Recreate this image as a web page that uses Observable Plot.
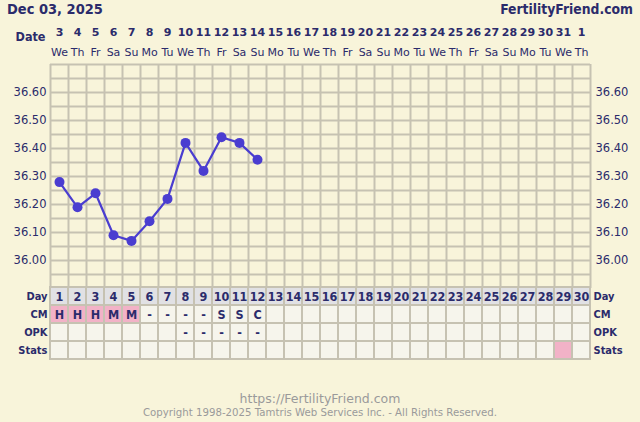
<!DOCTYPE html>
<html><head><meta charset="utf-8">
<script src="https://cdn.jsdelivr.net/npm/d3@7"></script>
<script src="https://cdn.jsdelivr.net/npm/@observablehq/plot@0.6"></script>
<style>
html,body{margin:0;padding:0;background:#f8f4da;}
body{width:640px;height:422px;overflow:hidden;position:relative;font-family:"DejaVu Sans Condensed","DejaVu Sans",sans-serif;color:#2b2b6b;}
#hdr{height:20px;position:relative;}
#hdr div{position:absolute;top:1px;font-weight:bold;line-height:17px;}
#hdr .l{left:7px;font-size:14.5px;}
#hdr .r{right:7px;font-size:13.8px;}
svg{display:block;}
#tbl svg{margin-top:-2px;}
.ft{position:absolute;left:0;width:640px;text-align:center;color:#9a9a9a;font-family:"DejaVu Sans",sans-serif;}
#f1{top:391px;font-size:12.5px;line-height:16px;}
#f2{top:407px;font-size:10.2px;line-height:12px;}
</style></head>
<body>
<div id="hdr"><div class="l">Dec 03, 2025</div><div class="r">FertilityFriend.com</div></div>
<div id="chart"></div>
<div id="tbl"></div>
<div class="ft" id="f1">https://FertilityFriend.com</div>
<div class="ft" id="f2">Copyright 1998-2025 Tamtris Web Services Inc. - All Rights Reserved.</div>
<script>
const days = [1,2,3,4,5,6,7,8,9,10,11,12,13,14,15,16,17,18,19,20,21,22,23,24,25,26,27,28,29,30];
const dates = [3,4,5,6,7,8,9,10,11,12,13,14,15,16,17,18,19,20,21,22,23,24,25,26,27,28,29,30,31,1];
const weekdays = ["We","Th","Fr","Sa","Su","Mo","Tu","We","Th","Fr","Sa","Su","Mo","Tu","We","Th","Fr","Sa","Su","Mo","Tu","We","Th","Fr","Sa","Su","Mo","Tu","We","Th"];
const temps = [36.28,36.19,36.24,36.09,36.07,36.14,36.22,36.42,36.32,36.44,36.42,36.36];
const cm = ["H","H","H","M","M","-","-","-","-","S","S","C"];
const opk = ["","","","","","","","-","-","-","-","-"];
const cmPinkDays = [1,2,3,4,5];
const statsPinkDays = [29];
const tempTicks = [36.00,36.10,36.20,36.30,36.40,36.50,36.60];
const gridTemps = [35.90,35.95,36.00,36.05,36.10,36.15,36.20,36.25,36.30,36.35,36.40,36.45,36.50,36.55,36.60,36.65,36.70];
const rows = ["Day","CM","OPK","Stats"];

const NAVY = "#2b2b6b", LINE = "#4a3dd0", GRID = "#c6c2b2", PINK = "#f2b2c7", DAYBG = "#e1e1e4", CELLBG = "#f6f5ec";
const FONT = '"DejaVu Sans Condensed","DejaVu Sans",sans-serif';
const WIDE = '"DejaVu Sans",sans-serif';
const colEdges = [0.5].concat(days.map(d => d + 0.5));

const chart = Plot.plot({
  width: 640, height: 268,
  marginTop: 44, marginBottom: 0, marginLeft: 50, marginRight: 50,
  style: {background: "transparent", fontFamily: FONT, color: NAVY, overflow: "visible"},
  x: {domain: [0.5, 30.5], axis: null},
  y: {domain: [35.9, 36.7], axis: null},
  marks: [
    Plot.ruleY(gridTemps, {stroke: GRID, strokeWidth: 2}),
    Plot.ruleX(colEdges, {stroke: GRID, strokeWidth: 2}),
    Plot.axisY(tempTicks, {anchor: "left", label: null, tickSize: 0, tickPadding: 4, fontSize: 11.5, fontFamily: WIDE, fill: NAVY, tickFormat: d => d.toFixed(2)}),
    Plot.axisY(tempTicks, {anchor: "right", label: null, tickSize: 0, tickPadding: 5, fontSize: 11.5, fontFamily: WIDE, fill: NAVY, tickFormat: d => d.toFixed(2)}),
    Plot.axisX(days, {anchor: "top", label: null, tickSize: 0, tickPadding: 29, fontSize: 11, fontFamily: WIDE, fontWeight: "bold", fill: NAVY, tickFormat: d => dates[d - 1]}),
    Plot.axisX(days, {anchor: "top", label: null, tickSize: 0, tickPadding: 9, fontSize: 11, fontFamily: WIDE, fill: NAVY, tickFormat: d => weekdays[d - 1]}),
    Plot.text(["Date"], {x: () => 0.5, y: () => 36.7, text: d => d, textAnchor: "end", dx: -5, dy: -28, fontSize: 12.5, fontWeight: "bold", fill: NAVY}),
    Plot.line(temps, {x: (d, i) => i + 1, y: d => d, stroke: LINE, strokeWidth: 2.2}),
    Plot.dot(temps, {x: (d, i) => i + 1, y: d => d, r: 5, fill: LINE, stroke: "none"})
  ]
});
document.getElementById("chart").append(chart);

const cells = [];
days.forEach((d, i) => {
  cells.push({day: d, row: "Day", fill: DAYBG, text: String(d)});
  cells.push({day: d, row: "CM", fill: cmPinkDays.includes(d) ? PINK : CELLBG, text: cm[i] || ""});
  cells.push({day: d, row: "OPK", fill: CELLBG, text: opk[i] || ""});
  cells.push({day: d, row: "Stats", fill: statsPinkDays.includes(d) ? PINK : CELLBG, text: ""});
});

const table = Plot.plot({
  width: 640, height: 74,
  marginTop: 1, marginBottom: 1, marginLeft: 50, marginRight: 50,
  style: {background: "transparent", fontFamily: FONT, color: NAVY, overflow: "visible"},
  x: {type: "band", domain: days, padding: 0, axis: null},
  y: {type: "band", domain: rows, padding: 0, axis: null},
  color: {type: "identity"},
  marks: [
    Plot.cell(cells, {x: "day", y: "row", fill: "fill", stroke: GRID, strokeWidth: 2}),
    Plot.text(cells, {x: "day", y: "row", text: "text", fontSize: 12.5, fontWeight: "bold", fill: NAVY}),
    Plot.axisY(rows, {anchor: "left", label: null, tickSize: 0, tickPadding: 3, fontSize: 11, fontWeight: "bold", fill: NAVY}),
    Plot.axisY(rows, {anchor: "right", label: null, tickSize: 0, tickPadding: 3, fontSize: 11, fontWeight: "bold", fill: NAVY})
  ]
});
document.getElementById("tbl").append(table);
</script>
</body></html>
